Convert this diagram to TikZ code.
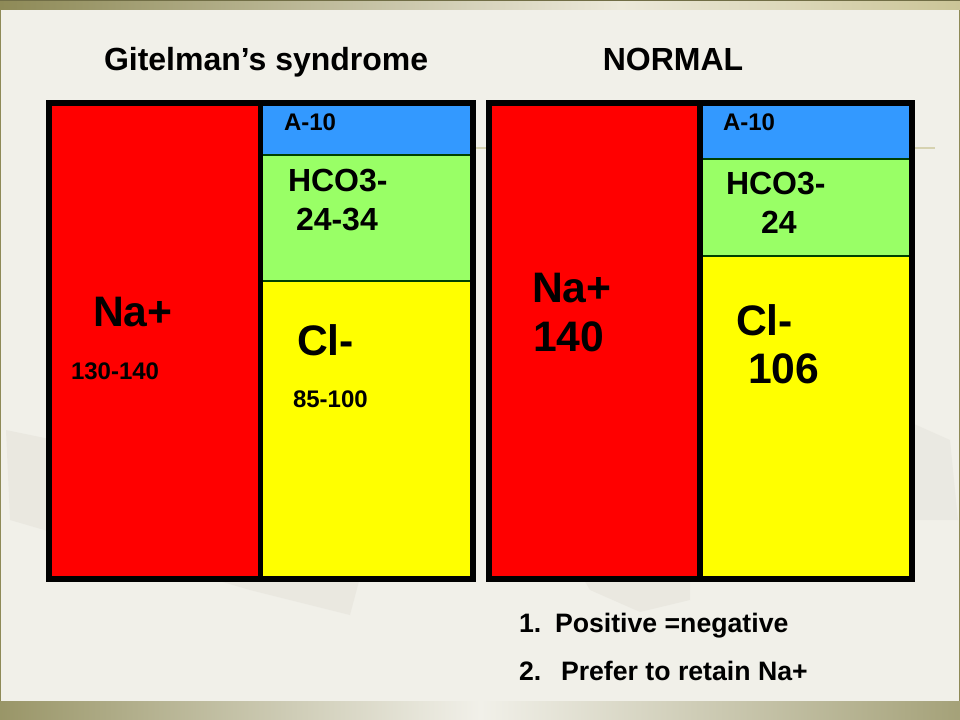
\documentclass[tikz,border=0pt]{standalone}
\usepackage{fontspec}
\setmainfont{Liberation Sans}
\begin{document}
\begin{tikzpicture}[x=0.75pt,y=-0.75pt,
  lbl/.style={anchor=base west,inner sep=0pt,outer sep=0pt,font=\bfseries},
  big/.style={lbl,font=\bfseries\fontsize{32}{36}\selectfont},
  mid/.style={lbl,font=\bfseries\fontsize{24}{28}\selectfont},
  sml/.style={lbl,font=\bfseries\fontsize{18}{22}\selectfont},
  lst/.style={lbl,font=\bfseries\fontsize{20}{24}\selectfont},
  frame/.style={draw=black,line width=4.5pt},
  sep/.style={draw=black!75!green,line width=1.1pt}]
\definecolor{bgc}{HTML}{F1F0E9}
\definecolor{olive}{HTML}{8E8A57}
\definecolor{olivelt}{HTML}{ECE9DA}
\definecolor{tan}{HTML}{CBC597}
\definecolor{tex}{HTML}{DDDBD2}
\definecolor{cred}{HTML}{FF0000}
\definecolor{cblue}{HTML}{3399FF}
\definecolor{cgreen}{HTML}{99FF66}
\definecolor{cyellow}{HTML}{FFFF00}
\useasboundingbox (0,0) rectangle (960,720);
% background
\fill[bgc] (0,0) rectangle (960,720);
% faint paper texture
\fill[tex,opacity=0.35] (6,430) -- (200,470) -- (370,540) -- (350,615) -- (250,590) -- (10,520) -- cycle;
\fill[tex,opacity=0.35] (560,540) -- (690,520) -- (690,600) -- (640,612) -- (590,590) -- cycle;
\fill[tex,opacity=0.3] (905,420) -- (950,440) -- (958,520) -- (915,520) -- cycle;
\draw[tan!70!bgc,line width=0.8pt] (470,148) -- (935,148);
% top and bottom bars
\shade[left color=olive,right color=olivelt] (0,0) rectangle (620,10);
\shade[left color=olivelt,right color=tan] (620,0) rectangle (960,10);
\shade[left color=olive!90!white,right color=bgc] (0,701) rectangle (480,720);
\shade[left color=bgc,right color=olive!80!white] (480,701) rectangle (960,720);
\draw[olive,line width=1pt] (0,10) -- (0,701);
\draw[olive,line width=1pt] (960,10) -- (960,701);
\draw[olive!80!black,line width=0.8pt] (0,0.5) -- (960,0.5);
% titles
\node[mid] (t1) at (104,71) {Gitelman’s syndrome};
\node[mid,anchor=base] (t2) at (673,71) {NORMAL};
% left chart fills
\fill[cred] (49,103) rectangle (260,579);
\fill[cblue] (260,103) rectangle (473,155);
\fill[cgreen] (260,155) rectangle (473,281);
\fill[cyellow] (260,281) rectangle (473,579);
\draw[sep] (263,155) -- (470,155);
\draw[sep] (263,281) -- (470,281);
\draw[frame] (49,103) rectangle (473,579);
\draw[frame,line width=4pt] (260.5,103) -- (260.5,579);
% right chart fills
\fill[cred] (489,103) rectangle (700,579);
\fill[cblue] (700,103) rectangle (912,159);
\fill[cgreen] (700,159) rectangle (912,256);
\fill[cyellow] (700,256) rectangle (912,579);
\draw[sep] (703,159) -- (909,159);
\draw[sep] (703,256) -- (909,256);
\draw[frame] (489,103) rectangle (912,579);
\draw[frame,line width=4pt] (700,103) -- (700,579);
% left labels
\node[sml] (la) at (284,131) {A-10};
\node[mid] (lh) at (288,192) {HCO3-};
\node[mid] (lh2) at (296,231) {24-34};
\node[big] (lna) at (93,326) {Na+};
\node[sml] (lnv) at (71,379) {130-140};
\node[big] (lcl) at (297,355) {Cl-};
\node[sml] (lcv) at (293,407) {85-100};
% right labels
\node[sml] (ra) at (723,131) {A-10};
\node[mid] (rh) at (726,195) {HCO3-};
\node[mid] (rh2) at (761,234) {24};
\node[big] (rna) at (532,302) {Na+};
\node[big] (rnv) at (533,351) {140};
\node[big] (rcl) at (736,335) {Cl-};
\node[big] (rcv) at (748,383) {106};
% list
\node[lst] (n1) at (519,632) {1.};
\node[lst] (l1) at (555,632) {Positive =negative};
\node[lst] (n2) at (519,680) {2.};
\node[lst] (l2) at (561,680) {Prefer to retain Na+};
\end{tikzpicture}
\end{document}
